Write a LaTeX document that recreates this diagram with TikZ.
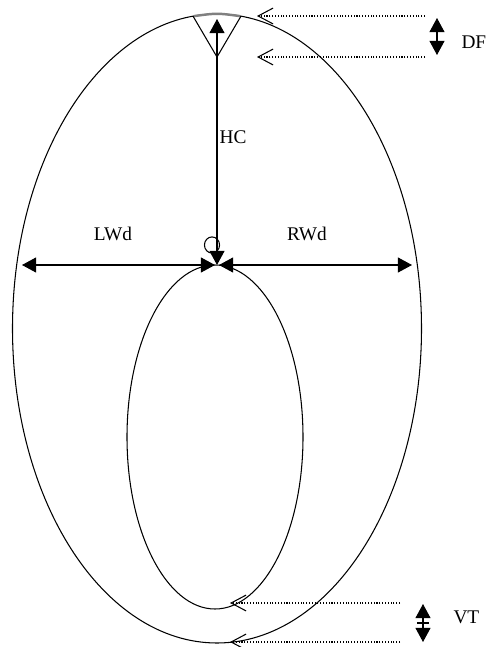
\documentclass[tikz,border=0pt]{standalone}
\usepackage{fontspec}
\setmainfont{Liberation Serif}
\usetikzlibrary{arrows.meta}
\tikzset{
  dimline/.style={{Triangle[length=8pt,width=8.5pt]}-{Triangle[length=8pt,width=8.5pt]}},
  guide/.style={densely dotted,-{Straight Barb[length=8.5pt,width=9pt]}},
  lbl/.style={font=\fontsize{11}{13}\selectfont,inner sep=0pt},
}
\begin{document}
\begin{tikzpicture}[x=0.569pt,y=-0.569pt,line width=0.6pt]
  \useasboundingbox (0,0) rectangle (494,647);
  % contours
  \draw (217,328.5) ellipse [x radius=204.5,y radius=314.5];
  \draw (215,437) ellipse [x radius=88,y radius=172];
  \draw[gray,line width=1.4pt] (194,16.1) .. controls (217,13) .. (240,16.1);
  % top triangle and height
  \coordinate (tl) at (193,16.1);
  \coordinate (tr) at (241,16.1);
  \coordinate (apex) at (217,57);
  \coordinate (tip) at (217,19);
  \coordinate (ctr) at (217,265);
  \coordinate (ctrL) at (215,265);
  \coordinate (ctrR) at (219,265);
  \coordinate (lend) at (22,265);
  \coordinate (rend) at (412,265);
  \draw (tl) -- (apex) -- (tr);
  \draw[dimline] (tip) -- (ctr);
  \draw (212,245) ellipse [x radius=4.3pt,y radius=4.6pt];
  % widths
  \draw[dimline] (lend) -- (ctrL);
  \draw[dimline] (ctrR) -- (rend);
  \node[lbl] (hc) at (233,137) {HC};
  \node[lbl] (lwd) at (113,234) {LWd};
  \node[lbl] (rwd) at (307,234) {RWd};
  % dorsal fold guides
  \coordinate (df1) at (425,16);
  \coordinate (df2) at (425,57);
  \coordinate (df1e) at (257,16);
  \coordinate (df2e) at (257,57);
  \draw[guide] (df1) -- (df1e);
  \draw[guide] (df2) -- (df2e);
  \draw[dimline] (437,18) -- (437,55);
  \node[lbl,anchor=west] (df) at (461,42) {DF};
  % ventral guides
  \coordinate (vt1) at (400,603);
  \coordinate (vt2) at (400,642);
  \coordinate (vt1e) at (230,603);
  \coordinate (vt2e) at (230,642);
  \draw[guide] (vt1) -- (vt1e);
  \draw[guide] (vt2) -- (vt2e);
  \draw[dimline] (423,604) -- (423,642);
  \draw (417,623) -- (429,623);
  \node[lbl,anchor=west] (vt) at (453,617) {VT};
\end{tikzpicture}
\end{document}
